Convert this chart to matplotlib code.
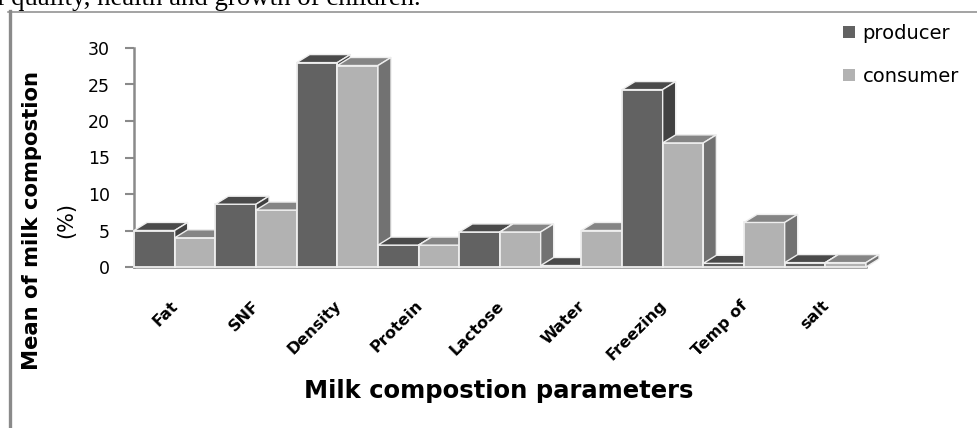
import matplotlib
matplotlib.use("Agg")
import matplotlib.pyplot as plt
from matplotlib.patches import Patch
from matplotlib.lines import Line2D

categories = ["Fat", "SNF", "Density", "Protein", "Lactose", "Water", "Freezing", "Temp of", "salt"]
producer = [5.0, 8.6, 28.0, 3.0, 4.8, 0.2, 24.3, 0.5, 0.6]
consumer = [4.0, 7.8, 27.6, 3.0, 4.8, 5.0, 17.0, 6.1, 0.6]
yticks = [0, 5, 10, 15, 20, 25, 30]

W, H = 978, 428
fig = plt.figure(figsize=(W / 100, H / 100), dpi=100)
fig.patch.set_facecolor("white")
ax = fig.add_axes([134 / W, 1 - 267 / H, 732 / W, 219 / H])
ax.set_xlim(0, len(categories))
ax.set_ylim(0, 30)

DX, DY = 0.16, 1.1
BW = 0.5
STY = {
    "producer": ("#626262", "#4a4a4a", "#414141"),
    "consumer": ("#b2b2b2", "#858585", "#727272"),
}


def bar3d(x, v, cols, z):
    front, top, side = cols
    ax.bar(x, v, BW, align="edge", color=front, edgecolor="#eeeeee", linewidth=1.3, zorder=z, clip_on=False)
    ax.fill([x, x + DX, x + BW + DX, x + BW], [v, v + DY, v + DY, v], fc=top, ec="#eeeeee", lw=1.0, zorder=z, clip_on=False)
    ax.fill([x + BW, x + BW + DX, x + BW + DX, x + BW], [v, v + DY, DY, 0], fc=side, ec="#eeeeee", lw=1.0, zorder=z, clip_on=False)


z = 3
for i in range(len(categories)):
    bar3d(i, producer[i], STY["producer"], z)
    bar3d(i + BW, consumer[i], STY["consumer"], z + 1)
    z += 2

for s in ("top", "right"):
    ax.spines[s].set_visible(False)
for s in ("left", "bottom"):
    ax.spines[s].set_color("#8a8a8a")
    ax.spines[s].set_linewidth(1.8)
ax.set_yticks(yticks)
ax.tick_params(axis="y", length=6.5, width=1.5, color="#8a8a8a", labelsize=12.5, pad=11, labelcolor="black")
ax.set_xticks([i + 0.5 for i in range(len(categories))])
ax.set_xticklabels([])
ax.tick_params(axis="x", length=0)
ax.patch.set_alpha(0)

for i, c in enumerate(categories):
    ax.annotate(c, xy=(i + 0.5, 0), xytext=(1, -26), textcoords="offset points", rotation=45,
                rotation_mode="anchor", ha="right", va="center", fontsize=11.5,
                fontweight="bold", family="DejaVu Sans", annotation_clip=False)


def t(px, py, s, **kw):
    fig.text(px / W, 1 - py / H, s, **kw)


t(-3, 5, "l quality, health and growth of children.", family="Liberation Serif", fontsize=19.3, ha="left", va="baseline")
t(32, 220, "Mean of milk compostion", rotation=90, fontsize=15.2, ha="center", va="center", color="black", fontweight="bold")
t(66, 220, "(%)", rotation=90, fontsize=15, ha="center", va="center")
t(499, 391, "Milk compostion parameters", fontsize=17.5, fontweight="bold", ha="center", va="center")

fig.add_artist(Line2D([8 / W, 1], [1 - 11.5 / H] * 2, color="#8a8a8a", lw=1.1))
fig.add_artist(Line2D([9.5 / W] * 2, [0, 1 - 11 / H], color="#8a8a8a", lw=2.4))

handles = [Patch(fc=STY["producer"][0], ec="none"), Patch(fc=STY["consumer"][0], ec="none")]
fig.legend(handles, ["producer", "consumer"], loc="upper left", bbox_to_anchor=(843 / W, 1 - 24 / H),
           frameon=False, fontsize=14, handlelength=0.6, handleheight=0.6, handletextpad=0.4, labelspacing=1.22,
           borderpad=0.0, borderaxespad=0)
fig.savefig("out.png", dpi=100)
